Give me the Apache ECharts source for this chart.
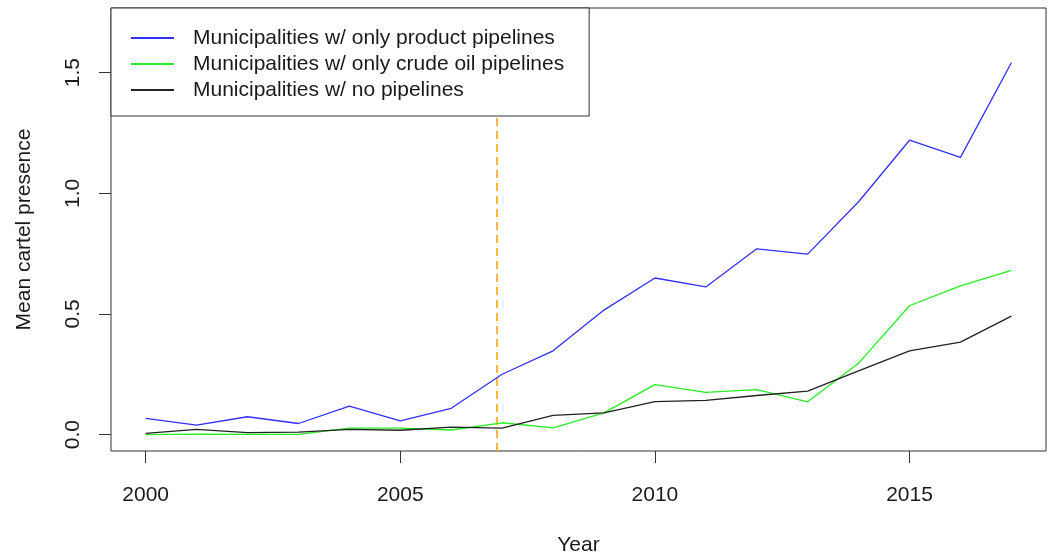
<!DOCTYPE html>
<html>
<head>
<meta charset="utf-8">
<script src="https://cdn.jsdelivr.net/npm/echarts@6/dist/echarts.min.js"></script>
<style>
  html, body { margin: 0; padding: 0; background: #fff; }
  #chart { width: 1050px; height: 560px; }
</style>
</head>
<body>
<div id="chart"></div>
<script>
// Mean cartel presence by year and pipeline type
const years = [2000, 2001, 2002, 2003, 2004, 2005, 2006, 2007, 2008, 2009,
               2010, 2011, 2012, 2013, 2014, 2015, 2016, 2017];
const productPipelines = [0.067, 0.039, 0.074, 0.046, 0.118, 0.057, 0.109, 0.250, 0.347, 0.516,
                          0.649, 0.612, 0.770, 0.748, 0.965, 1.220, 1.149, 1.541];
const crudeOilPipelines = [0.000, 0.002, 0.001, 0.001, 0.027, 0.027, 0.019, 0.049, 0.028, 0.090,
                           0.207, 0.175, 0.186, 0.136, 0.296, 0.534, 0.616, 0.681];
const noPipelines = [0.005, 0.022, 0.008, 0.010, 0.022, 0.018, 0.031, 0.027, 0.080, 0.090,
                     0.137, 0.142, 0.162, 0.180, 0.264, 0.347, 0.383, 0.491];
const seriesNames = [
  'Municipalities w/ only product pipelines',
  'Municipalities w/ only crude oil pipelines',
  'Municipalities w/ no pipelines'
];
const xTicks = [2000, 2005, 2010, 2015];
const yTicks = [0.0, 0.5, 1.0, 1.5];
const referenceYear = 2006.9;

const font = 'Liberation Sans, Arial, sans-serif';
const ink = '#1a1a1a';

function pairs(values) {
  return years.map((y, i) => [y, values[i]]);
}

const chart = echarts.init(document.getElementById('chart'), null, { renderer: 'canvas' });

chart.setOption({
  backgroundColor: '#fff',
  animation: false,
  grid: {
    left: 111, right: 4, top: 8, bottom: 109,
    outerBoundsMode: 'none',
    containLabel: false,
    show: true, borderColor: '#333', borderWidth: 1, backgroundColor: 'transparent'
  },
  legend: {
    orient: 'vertical',
    left: 111, top: 8,
    padding: [17, 25, 13, 20],
    itemGap: 0,
    itemWidth: 43,
    itemHeight: 2,
    icon: 'rect',
    backgroundColor: '#fff',
    borderColor: '#333',
    borderWidth: 1,
    textStyle: {
      fontFamily: font, fontSize: 21, color: ink,
      lineHeight: 26, padding: [0, 0, 0, 14]
    },
    data: seriesNames
  },
  xAxis: {
    type: 'value',
    min: 1999.32, max: 2017.68,
    name: 'Year',
    nameLocation: 'middle',
    nameGap: 84,
    nameTextStyle: { fontFamily: font, fontSize: 21, color: ink },
    splitLine: { show: false },
    axisLine: { show: false, onZero: false },
    axisTick: {
      show: true, length: 12, inside: false,
      customValues: xTicks,
      lineStyle: { color: '#333', width: 1 }
    },
    axisLabel: {
      customValues: xTicks,
      margin: 34,
      fontFamily: font, fontSize: 21, color: ink,
      formatter: v => String(v)
    }
  },
  yAxis: {
    type: 'value',
    min: -0.068, max: 1.768,
    name: 'Mean cartel presence',
    nameLocation: 'middle',
    nameGap: 76,
    nameTextStyle: { fontFamily: font, fontSize: 21, color: ink },
    splitLine: { show: false },
    axisLine: { show: false, onZero: false },
    axisTick: {
      show: true, length: 12, inside: false,
      customValues: yTicks,
      lineStyle: { color: '#333', width: 1 }
    },
    axisLabel: {
      customValues: yTicks,
      rotate: 90,
      margin: 27,
      fontFamily: font, fontSize: 21, color: ink,
      formatter: v => Number(v).toFixed(1)
    }
  },
  series: [
    {
      name: seriesNames[0], type: 'line', data: pairs(productPipelines),
      showSymbol: false, symbol: 'none',
      lineStyle: { color: '#3030ff', width: 1.3 }, itemStyle: { color: '#3030ff' },
      z: 3,
      markLine: {
        silent: true, symbol: 'none', label: { show: false },
        lineStyle: { color: '#ffa000', type: [8, 5], width: 1.5 },
        data: [{ xAxis: referenceYear }],
        z: 1
      }
    },
    {
      name: seriesNames[1], type: 'line', data: pairs(crudeOilPipelines),
      showSymbol: false, symbol: 'none',
      lineStyle: { color: '#22ee22', width: 1.3 }, itemStyle: { color: '#22ee22' },
      z: 3
    },
    {
      name: seriesNames[2], type: 'line', data: pairs(noPipelines),
      showSymbol: false, symbol: 'none',
      lineStyle: { color: '#222', width: 1.3 }, itemStyle: { color: '#222' },
      z: 3
    }
  ]
});
</script>
</body>
</html>
